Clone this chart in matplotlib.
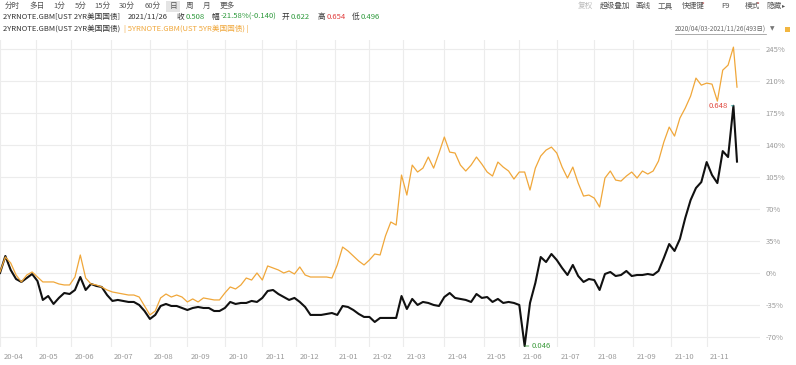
import numpy as np
import pandas as pd
import matplotlib
matplotlib.use("Agg")
import matplotlib.pyplot as plt
from matplotlib.lines import Line2D
from matplotlib.patches import Rectangle, Circle
from matplotlib.transforms import ScaledTranslation

plt.rcParams['font.family'] = ['Noto Sans CJK SC', 'DejaVu Sans']

# ---------------- data ----------------
start_date, end_date = "2020-04-03", "2021-11-26"
holidays = ["2020-05-25", "2020-07-03", "2020-09-07", "2020-10-12", "2020-11-11",
            "2020-11-26", "2020-12-25", "2021-01-01", "2021-01-18", "2021-02-15",
            "2021-05-31", "2021-06-18", "2021-07-05", "2021-09-06", "2021-10-11",
            "2021-11-11", "2021-11-25"]

# % change, sampled every 3rd trading day (+ last day)
ust2_pct = [0, 18.6, 3.3, -6.6, -9.8, -5.5, -1.1, -8.8, -29.5, -25.2,
            -33.9, -27.3, -21.9, -23.0, -18.6, -4.4, -18.6, -12.0, -14.2, -15.3,
            -24.1, -30.6, -29.5, -30.6, -31.7, -31.7, -35.0, -41.6, -50.3, -45.9,
            -36.1, -33.9, -36.1, -36.1, -38.3, -40.5, -38.3, -37.2, -38.3, -38.3,
            -41.6, -41.6, -38.3, -31.7, -33.9, -32.8, -32.8, -30.6, -31.7, -27.3,
            -19.7, -18.6, -23.0, -26.3, -29.5, -27.3, -31.7, -37.2, -45.9, -45.9,
            -45.9, -44.8, -43.8, -45.9, -36.1, -37.2, -40.5, -44.8, -48.1, -48.1,
            -53.6, -49.2, -49.2, -49.2, -49.2, -25.2, -39.4, -28.4, -35.0, -31.7,
            -32.8, -35.0, -36.1, -26.3, -21.9, -27.3, -28.4, -29.5, -31.7, -23.0,
            -27.3, -26.3, -31.7, -28.4, -32.8, -31.7, -32.8, -35.0, -79.9, -32.8,
            -10.9, 17.5, 12.0, 20.8, 14.2, 5.5, -2.2, 8.8, -3.3, -9.8,
            -6.6, -7.7, -18.6, -1.1, 1.1, -3.3, -2.2, 2.2, -3.3, -2.2,
            -2.2, -1.1, -2.2, 2.2, 16.4, 31.7, 24.1, 37.2, 60.2, 79.8,
            93.0, 99.5, 121.4, 107.2, 98.4, 133.4, 126.9, 183.0, 121.9]

ust5_pct = [1.1, 17.5, 10.9, -2.2, -9.8, -2.2, 1.1, -4.4, -9.8, -9.8,
            -9.8, -12.0, -13.1, -13.1, -4.4, 19.7, -5.5, -12.0, -13.1, -15.3,
            -18.6, -20.8, -21.9, -23.0, -24.1, -24.1, -26.3, -36.1, -45.9, -41.6,
            -27.3, -23.0, -26.3, -24.1, -26.3, -31.7, -28.4, -31.7, -27.3, -28.4,
            -29.5, -29.5, -21.9, -15.3, -17.5, -13.1, -5.5, -7.7, 0.0, -7.7,
            7.7, 5.5, 3.3, 0.0, 2.2, -1.1, 6.6, -2.2, -4.4, -4.4,
            -4.4, -4.4, -5.5, 8.8, 28.4, 24.1, 18.6, 13.1, 8.8, 14.2,
            20.8, 19.7, 40.5, 55.8, 52.5, 107.2, 85.3, 118.1, 110.5, 114.8,
            126.9, 114.8, 131.3, 148.8, 132.3, 131.3, 118.1, 111.6, 118.1, 126.9,
            119.2, 110.5, 106.1, 121.4, 115.9, 111.6, 102.8, 110.5, 110.5, 90.8,
            114.8, 128.0, 134.5, 137.8, 131.3, 115.9, 103.9, 115.9, 98.4, 84.2,
            85.3, 82.0, 72.2, 103.9, 111.6, 101.7, 100.6, 106.1, 110.5, 103.9,
            111.6, 108.3, 111.6, 122.5, 143.3, 159.7, 149.8, 169.5, 180.5, 193.6,
            213.3, 205.6, 207.8, 206.7, 188.1, 222.0, 227.5, 247.2, 203.4]

month_labels = ["20-04", "20-05", "20-06", "20-07", "20-08", "20-09", "20-10",
                "20-11", "20-12", "21-01", "21-02", "21-03", "21-04", "21-05",
                "21-06", "21-07", "21-08", "21-09", "21-10", "21-11"]
y_ticks = [-70, -35, 0, 35, 70, 105, 140, 175, 210, 245]
peak_label = "0.648"
trough_label = "0.046"

# ---------------- trading-day axis ----------------
days = pd.bdate_range(start_date, end_date, freq="C", holidays=holidays)
N = len(days)
idx = list(range(0, N, 3))
if idx[-1] != N - 1:
    idx.append(N - 1)
if len(idx) != len(ust2_pct):
    idx = list(np.round(np.linspace(0, N - 1, len(ust2_pct))).astype(int))
idx = np.array(idx)

month_pos = [int(np.searchsorted(days, pd.Timestamp("20" + m + "-01"))) for m in month_labels]

# ---------------- figure ----------------
W, H = 796, 365
fig = plt.figure(figsize=(W / 100, H / 100), dpi=100)
fig.patch.set_facecolor("white")


def fx(px):
    return px / W


def fy(py):
    return 1 - py / H


ax = fig.add_axes([0, fy(347), fx(760), fy(40) - fy(347)])
for s in ax.spines.values():
    s.set_visible(False)

grid_c = "#ececec"
for p in month_pos:
    ax.axvline(p, color=grid_c, lw=0.8, zorder=0)
for t in y_ticks:
    ax.axhline(t, color=grid_c, lw=0.8, zorder=0)

ax.plot(idx, ust2_pct, color="#111111", lw=1.5, zorder=2, solid_joinstyle="round")
ax.plot(idx, ust5_pct, color="#f0a73a", lw=0.9, zorder=4, solid_joinstyle="round")

ax.set_xlim(0, (N - 1) * 760 / 737)
ax.set_ylim(-81, 255)

ax.yaxis.tick_right()
ax.set_yticks(y_ticks)
ax.set_yticklabels([f"{t}%" for t in y_ticks])
ax.tick_params(axis="y", length=0, pad=4, labelsize=5.5, labelcolor="#9a9a9a")
ax.set_xticks(month_pos)
ax.set_xticklabels(month_labels)
ax.tick_params(axis="x", length=0, pad=4, labelsize=5.5, labelcolor="#9a9a9a")
for lbl in ax.get_xticklabels():
    lbl.set_ha("left")
    lbl.set_transform(lbl.get_transform() + ScaledTranslation(2.5 / 72, 0, fig.dpi_scale_trans))

# annotations of extremes
pk = int(np.argmax(ust2_pct))
ax.annotate(peak_label, xy=(idx[pk], ust2_pct[pk]), xytext=(-3.6, 0), textcoords="offset points",
            ha="right", va="center", fontsize=5.5, color="#e0483e", zorder=3,
            arrowprops=dict(arrowstyle="-", color="#3fb5b0", lw=0.6, shrinkA=0, shrinkB=0))
tr = int(np.argmin(ust2_pct))
ax.annotate(trough_label, xy=(idx[tr], ust2_pct[tr]), xytext=(5, 0), textcoords="offset points",
            ha="left", va="center", fontsize=5.5, color="#3a9a3a", zorder=3,
            arrowprops=dict(arrowstyle="-", color="#3a9a3a", lw=0.6, shrinkA=0, shrinkB=0))

# ---------------- header ----------------
fs = 5.5
row1 = [("分时", 12), ("多日", 37), ("1分", 59), ("5分", 81), ("15分", 102), ("30分", 127),
        ("60分", 153), ("日", 173), ("周", 190), ("月", 207), ("更多", 227)]
fig.patches.append(Rectangle((fx(166), fy(12)), fx(14), 11 / H, transform=fig.transFigure,
                             facecolor="#e4e4e4", edgecolor="none"))
for t, x in row1:
    fig.text(fx(x), fy(6), t, ha="center", va="center", fontsize=fs, color="#555555")

row1r = [("复权", 585, "#bbbbbb"), ("超级叠加", 615, "#555555"), ("画线", 643, "#555555"),
         ("工具", 665, "#555555"), ("快捷键", 693, "#555555"), ("F9", 725, "#555555"),
         ("模式", 752, "#555555"), ("隐藏", 774, "#555555")]
for t, x, c in row1r:
    fig.text(fx(x), fy(6), t, ha="center", va="center", fontsize=fs, color=c)
for x in (703, 758):
    fig.patches.append(Circle((fx(x), fy(3)), 1.2 / W, transform=fig.transFigure,
                              facecolor="#e03030", edgecolor="none"))
fig.text(fx(784), fy(6), "▸", ha="center", va="center", fontsize=4.5, color="#555555",
         family=["DejaVu Sans"])

dark = "#333333"
green = "#2e9a3c"
red = "#e03c3c"
row2 = [("2YRNOTE.GBM[UST 2YR美国国债]", 3, dark), ("2021/11/26", 128, dark),
        ("收", 177, dark), ("0.508", 186, green), ("幅", 211, dark),
        ("-21.58%(-0.140)", 221, green), ("开", 282, dark), ("0.622", 291, green),
        ("高", 318, dark), ("0.654", 327, red), ("低", 352, dark), ("0.496", 361, green)]
for t, x, c in row2:
    fig.text(fx(x), fy(17), t, ha="left", va="center", fontsize=fs, color=c)

fig.text(fx(3), fy(29), "2YRNOTE.GBM(UST 2YR美国国债)", ha="left", va="center", fontsize=fs, color=dark)
fig.text(fx(124), fy(29), "| 5YRNOTE.GBM(UST 5YR美国国债) |", ha="left", va="center",
         fontsize=fs, color="#f0a73a")

fig.text(fx(675), fy(29), "2020/04/03-2021/11/26(493日)", ha="left", va="center",
         fontsize=4.6, color="#666666")
fig.lines.append(Line2D([fx(675), fx(766)], [fy(34), fy(34)], transform=fig.transFigure,
                        color="#888888", lw=0.5))
fig.text(fx(772), fy(29), "▼", ha="center", va="center", fontsize=4.2, color="#777777",
         family=["DejaVu Sans"])
fig.patches.append(Rectangle((fx(785), fy(32)), 5 / W, 5 / H, transform=fig.transFigure,
                             facecolor="#f2b640", edgecolor="none"))

fig.savefig("out.png", dpi=100)
